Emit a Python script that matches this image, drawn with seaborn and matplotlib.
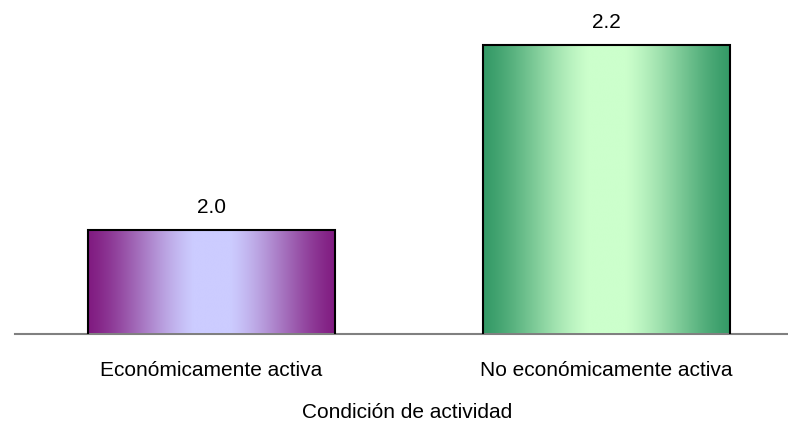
import numpy as np
import pandas as pd
import matplotlib
matplotlib.use("Agg")
import matplotlib.pyplot as plt
import seaborn as sns
from matplotlib.colors import to_rgb

categories = ["Económicamente activa", "No económicamente activa"]
values = [2.0, 2.2]
edge_colors = ["#801a80", "#339966"]
center_colors = ["#ccccff", "#ccffcc"]
x_title = "Condición de actividad"

sns.set_theme(style="white")
plt.rcParams["font.family"] = ["Liberation Sans", "DejaVu Sans"]

df = pd.DataFrame({"cond": categories, "val": values})

fig = plt.figure(figsize=(7.88, 4.23), dpi=100)
ax = fig.add_axes([15 / 788, (423 - 333.5) / 423, (788 - 15) / 788, 333.5 / 423])

sns.barplot(data=df, x="cond", y="val", ax=ax, width=0.626,
            color="white", edgecolor="black", linewidth=1.5, zorder=3)

y_lo, y_hi = 1.888, 2.2487
ax.set_xlim(-0.498, 1.461)
ax.set_ylim(y_lo, y_hi)

# horizontal cylinder-like shading inside each bar (smooth ramp, light centre)
ncol = 512
u = np.linspace(-1, 1, ncol)
t = np.clip((np.abs(u) - 0.15) / 0.85, 0, 1)
w = t * t * (3 - 2 * t)
w = 0.4 * w + 0.6 * t
for patch, c_edge, c_mid in zip(ax.patches, edge_colors, center_colors):
    e = np.array(to_rgb(c_edge))
    m = np.array(to_rgb(c_mid))
    grad = m[None, :] * (1 - w[:, None]) + e[None, :] * w[:, None]
    img = grad[None, :, :]
    x0 = patch.get_x()
    x1 = x0 + patch.get_width()
    y1 = patch.get_y() + patch.get_height()
    ax.imshow(img, extent=[x0, x1, y_lo, y1], aspect="auto",
              interpolation="bilinear", zorder=2)
    patch.set_facecolor("none")

ax.set_xlim(-0.498, 1.461)
ax.set_ylim(y_lo, y_hi)

for cont in ax.containers:
    ax.bar_label(cont, labels=[f"{v:.1f}" for v in values], padding=9.5,
                 fontsize=15, color="black")

for s in ["top", "right", "left"]:
    ax.spines[s].set_visible(False)
ax.spines["bottom"].set_color("#808080")
ax.spines["bottom"].set_linewidth(1.5)
ax.spines["bottom"].set_zorder(1)
ax.set_yticks([])
ax.tick_params(axis="x", length=0, pad=20, labelsize=15, colors="black")
ax.set_ylabel("")
ax.set_xlabel(x_title, fontsize=15, color="black", labelpad=18)
ax.xaxis.set_label_coords(0.5067, -0.208)

fig.savefig("out.png", dpi=100)
